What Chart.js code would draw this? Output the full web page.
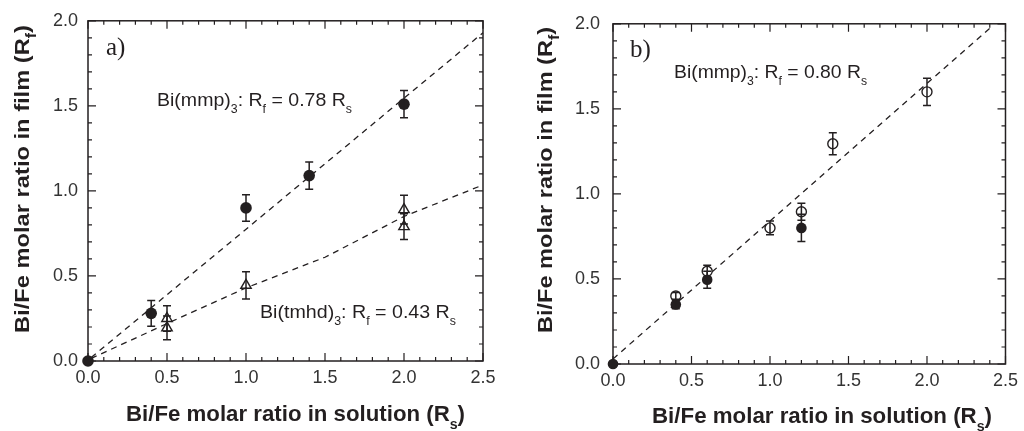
<!DOCTYPE html>
<html>
<head>
<meta charset="utf-8">
<script src="https://cdn.jsdelivr.net/npm/chart.js@4.4.0/dist/chart.umd.min.js"></script>
<style>
body { margin: 0; background: #fff; }
.panel { position: absolute; top: 0; width: 512px; height: 431px; }
</style>
</head>
<body>
<div class="panel" style="left:0"><canvas id="chartA" width="512" height="431"></canvas></div>
<div class="panel" style="left:512px"><canvas id="chartB" width="512" height="431"></canvas></div>
<script>
// tick labels (both panels)
var xTickVals = [0.0, 0.5, 1.0, 1.5, 2.0, 2.5];
var yTickVals = [0.0, 0.5, 1.0, 1.5, 2.0];

// panel a) Bi(mmp)3, filled circles
var mmpX   = [0.0, 0.4, 1.0, 1.4, 2.0];
var mmpY   = [0.0, 0.28, 0.90, 1.09, 1.51];
var mmpErr = [0.0, 0.075, 0.078, 0.08, 0.08];
// panel a) Bi(tmhd)3, open triangles
var tmhdX   = [0.5, 0.5, 1.0, 2.0, 2.0];
var tmhdY   = [0.25, 0.195, 0.445, 0.89, 0.79];
var tmhdErr = [0.075, 0.07, 0.08, 0.085, 0.075];
// panel a) dashed fits
var fitMmpX  = [0.02, 2.5];
var fitMmpY  = [0.02, 1.93];
var fitTmhdX = [0.02, 0.5, 1.0, 1.5, 2.0, 2.5];
var fitTmhdY = [0.015, 0.22, 0.43, 0.61, 0.85, 1.035];

// panel b) open circles
var openX   = [0.4, 0.6, 1.0, 1.2, 1.4, 2.0];
var openY   = [0.40, 0.545, 0.80, 0.895, 1.295, 1.60];
var openErr = [0.02, 0.035, 0.04, 0.05, 0.065, 0.08];
// panel b) filled circles
var fillX   = [0.0, 0.4, 0.6, 1.2];
var fillY   = [0.0, 0.35, 0.495, 0.80];
var fillErr = [0.0, 0.025, 0.05, 0.08];
// panel b) dashed fit
var fitBX = [0.0, 2.42];
var fitBY = [0.03, 1.99];

var ink = '#231f20';

function pts(xs, ys) {
  var out = [];
  for (var i = 0; i < xs.length; i++) out.push({x: xs[i], y: ys[i]});
  return out;
}

// draws text made of [string, isSub] parts, stretched to a width if given
function drawRich(ctx, parts, size, weight, width) {
  var subSize = Math.round(size * 0.65);
  var total = 0;
  parts.forEach(function(p) {
    ctx.font = weight + ' ' + (p[1] ? subSize : size) + 'px "Liberation Sans", Arial, sans-serif';
    total += ctx.measureText(p[0]).width;
  });
  if (width) ctx.scale(width / total, 1);
  var x = 0;
  parts.forEach(function(p) {
    ctx.font = weight + ' ' + (p[1] ? subSize : size) + 'px "Liberation Sans", Arial, sans-serif';
    ctx.fillText(p[0], x, p[1] ? size * 0.36 : 0);
    x += ctx.measureText(p[0]).width;
  });
}

var frameTicks = {
  id: 'frameTicks',
  beforeDatasetsDraw: function(chart) {
    var ctx = chart.ctx, a = chart.chartArea;
    var xs = chart.scales.x, ys = chart.scales.y;
    ctx.save();
    ctx.strokeStyle = ink;
    ctx.lineWidth = 1.5;
    ctx.strokeRect(a.left, a.top, a.right - a.left, a.bottom - a.top);
    ctx.lineWidth = 1.2;
    ctx.beginPath();
    var i, v, len, p;
    for (i = 0; i <= Math.round(xs.max * 10); i++) {
      v = i / 10; len = (i % 5 == 0) ? 8 : 4;
      p = xs.getPixelForValue(v);
      ctx.moveTo(p, a.bottom); ctx.lineTo(p, a.bottom - len);
      ctx.moveTo(p, a.top); ctx.lineTo(p, a.top + len);
    }
    for (i = 0; i <= Math.round(ys.max * 10); i++) {
      v = i / 10; len = (i % 5 == 0) ? 8 : 4;
      p = ys.getPixelForValue(v);
      ctx.moveTo(a.left, p); ctx.lineTo(a.left + len, p);
      ctx.moveTo(a.right, p); ctx.lineTo(a.right - len, p);
    }
    ctx.stroke();
    ctx.restore();
  }
};

var errorBars = {
  id: 'errorBars',
  afterDatasetsDraw: function(chart) {
    var ctx = chart.ctx;
    var xs = chart.scales.x, ys = chart.scales.y;
    ctx.save();
    ctx.strokeStyle = ink;
    ctx.lineWidth = 1.5;
    chart.data.datasets.forEach(function(ds) {
      if (!ds.errors) return;
      ds.data.forEach(function(d, i) {
        var e = ds.errors[i];
        if (!e) return;
        var px = xs.getPixelForValue(d.x);
        var top = ys.getPixelForValue(d.y + e);
        var bot = ys.getPixelForValue(d.y - e);
        ctx.beginPath();
        ctx.moveTo(px, top); ctx.lineTo(px, bot);
        ctx.moveTo(px - 4, top); ctx.lineTo(px + 4, top);
        ctx.moveTo(px - 4, bot); ctx.lineTo(px + 4, bot);
        ctx.stroke();
      });
    });
    ctx.restore();
  }
};

var notes = {
  id: 'notes',
  afterDraw: function(chart, args, opts) {
    var ctx = chart.ctx;
    ctx.save();
    ctx.fillStyle = ink;
    ctx.textBaseline = 'alphabetic';
    ctx.textAlign = 'left';
    // panel letter
    ctx.font = '25px "Liberation Serif", "Times New Roman", serif';
    ctx.fillText(opts.letter[0], opts.letter[1], opts.letter[2]);
    // fit annotations
    opts.labels.forEach(function(l) {
      ctx.save();
      ctx.translate(l.x, l.y);
      drawRich(ctx, l.parts, 19, 'normal', l.w);
      ctx.restore();
    });
    // x axis title
    ctx.save();
    ctx.translate(opts.xTitle.x, opts.xTitle.y);
    drawRich(ctx, [['Bi/Fe molar ratio in solution (R', false], ['s', true], [')', false]], 22, 'bold', opts.xTitle.w);
    ctx.restore();
    // y axis title
    ctx.save();
    ctx.translate(opts.yTitle.x, opts.yTitle.y);
    ctx.rotate(-Math.PI / 2);
    drawRich(ctx, [['Bi/Fe molar ratio in film (R', false], ['f', true], [')', false]], 21, 'bold', opts.yTitle.w);
    ctx.restore();
    ctx.restore();
  }
};

function scaleOpts(axis, max, vals, size, pad) {
  return {
    type: 'linear',
    min: 0,
    max: max,
    grid: { display: false, drawTicks: false },
    border: { display: false },
    afterBuildTicks: function(s) { s.ticks = vals.map(function(v) { return {value: v}; }); },
    afterFit: function(s) { if (axis == 'x') s.height = size; else s.width = size; },
    ticks: {
      color: '#333',
      padding: pad,
      maxRotation: 0,
      autoSkip: false,
      font: { family: '"Liberation Sans", Arial, sans-serif', size: 18 },
      callback: function(v) { return Number(v).toFixed(1); }
    }
  };
}

function makeChart(id, datasets, area, notesOpts) {
  return new Chart(document.getElementById(id), {
    type: 'scatter',
    data: { datasets: datasets },
    options: {
      responsive: false,
      animation: false,
      layout: { padding: { left: 0, top: area.top, right: area.right, bottom: 0 } },
      scales: {
        x: scaleOpts('x', 2.5, xTickVals, area.xh, 6),
        y: scaleOpts('y', 2.0, yTickVals, area.yw, area.ypad)
      },
      plugins: {
        legend: { display: false },
        tooltip: { enabled: false },
        notes: notesOpts
      }
    },
    plugins: [frameTicks, errorBars, notes]
  });
}

function fitLine(xs, ys) {
  return {
    data: pts(xs, ys), showLine: true, pointRadius: 0, order: 3,
    borderColor: ink, borderWidth: 1.3, borderDash: [6, 5], clip: false
  };
}

makeChart('chartA', [
  fitLine(fitMmpX, fitMmpY),
  fitLine(fitTmhdX, fitTmhdY),
  { data: pts(tmhdX, tmhdY), errors: tmhdErr, pointStyle: 'triangle', pointRadius: 6,
    backgroundColor: 'rgba(0,0,0,0)', borderColor: ink, borderWidth: 1.4, order: 2, clip: false },
  { data: pts(mmpX, mmpY), errors: mmpErr, pointStyle: 'circle', pointRadius: 5.8,
    backgroundColor: ink, borderColor: ink, borderWidth: 0, order: 1, clip: false }
], { top: 15, right: 29, xh: 70, yw: 88, ypad: 10 }, {
  letter: ['a)', 106, 55],
  labels: [
    { x: 157, y: 106, w: 195, parts: [['Bi(mmp)', false], ['3', true], [': R', false], ['f', true], [' = 0.78 R', false], ['s', true]] },
    { x: 260, y: 318, w: 196, parts: [['Bi(tmhd)', false], ['3', true], [': R', false], ['f', true], [' = 0.43 R', false], ['s', true]] }
  ],
  xTitle: { x: 126, y: 421, w: 339 },
  yTitle: { x: 28.5, y: 333, w: 308 }
});

makeChart('chartB', [
  fitLine(fitBX, fitBY),
  { data: pts(openX, openY), errors: openErr, pointStyle: 'circle', pointRadius: 5,
    backgroundColor: 'rgba(0,0,0,0)', borderColor: ink, borderWidth: 1.4, order: 2, clip: false },
  { data: pts(fillX, fillY), errors: fillErr, pointStyle: 'circle', pointRadius: 5.3,
    backgroundColor: ink, borderColor: ink, borderWidth: 0, order: 1, clip: false }
], { top: 23, right: 15, xh: 67, yw: 101, ypad: 13 }, {
  letter: ['b)', 118, 57],
  labels: [
    { x: 162, y: 78, w: 193, parts: [['Bi(mmp)', false], ['3', true], [': R', false], ['f', true], [' = 0.80 R', false], ['s', true]] }
  ],
  xTitle: { x: 140, y: 423, w: 340 },
  yTitle: { x: 39.5, y: 333, w: 306 }
});
</script>
</body>
</html>
